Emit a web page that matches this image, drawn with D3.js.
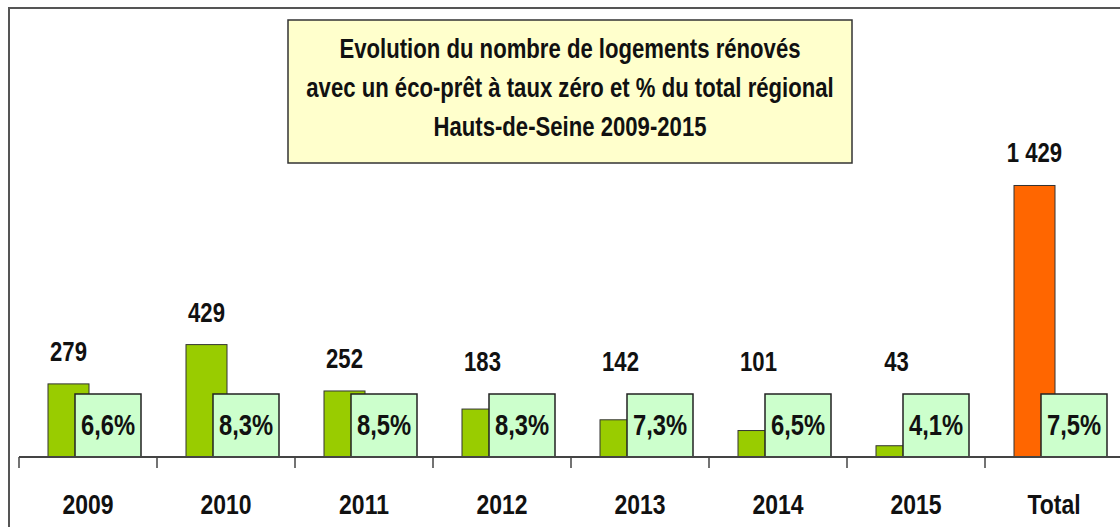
<!DOCTYPE html>
<meta charset="utf-8">
<style>
  body { margin: 0; background: #fff; }
  svg { display: block; }
  text {
    font-family: "Liberation Sans", Arial, sans-serif;
    font-weight: bold;
    fill: #111;
  }
  .frame { fill: none; stroke: #555; stroke-width: 2; }
  .titlebox { fill: #FFFFCC; stroke: #333; stroke-width: 1.5; }
  .bar { stroke: #333; stroke-width: 1; }
  .pctbox { fill: #CCFFCC; stroke: #222; stroke-width: 1.5; }
  .axis { stroke: #444; stroke-width: 2; }
</style>
<svg width="1120" height="527"></svg>
<script src="https://d3js.org/d3.v7.min.js"></script>
<script>

var categories = ["2009", "2010", "2011", "2012", "2013", "2014", "2015", "Total"];
var logements = [279, 429, 252, 183, 142, 101, 43, 1429];
var partRegion = [6.6, 8.3, 8.5, 8.3, 7.3, 6.5, 4.1, 7.5];
var titleLines = [
  "Evolution du nombre de logements rénovés",
  "avec un éco-prêt à taux zéro et % du total régional",
  "Hauts-de-Seine 2009-2015"
];

var svg = d3.select("svg"),
    width = +svg.attr("width"),
    height = +svg.attr("height");

var fr = d3.formatLocale({decimal: ",", thousands: " ", grouping: [3], currency: ["", " €"]});
var fmtNum = fr.format(",d"),
    fmtPct = function(v) { return fr.format(".1f")(v) + "%"; };

// no narrow font installed, so squeeze the text horizontally
var narrow = 0.82;
function place(fx, fy) {
  return function(d, i) { return "translate(" + fx(d, i) + "," + fy(d, i) + ") scale(" + narrow + ",1)"; };
}

var base = 457;
var x = d3.scaleBand()
    .domain(categories)
    .range([19, 19 + categories.length * 138]);
// years on the main axis, the total on a secondary one
var y = d3.scaleLinear().domain([0, 1000]).range([base, base - 262]);
var yTotal = d3.scaleLinear().domain([0, 1500]).range([base, base - 285]);
function yOf(c, v) { return c == "Total" ? yTotal(v) : y(v); }

var data = categories.map(function(c, i) {
  return {cat: c, value: logements[i], pct: partRegion[i]};
});

// outer frame
svg.append("rect").attr("class", "frame")
    .attr("x", 9).attr("y", 8).attr("width", width + 20).attr("height", height + 20);

// title
svg.append("rect").attr("class", "titlebox")
    .attr("x", 288).attr("y", 20).attr("width", 564).attr("height", 143);
svg.selectAll(".title")
    .data(titleLines)
  .enter().append("text")
    .attr("class", "title")
    .attr("transform", place(function() { return 570; }, function(d, i) { return 58 + i * 39; }))
    .attr("text-anchor", "middle")
    .style("font-size", "27px")
    .text(function(d) { return d; });

var bw = 41, boxOff = 56, boxW = 66, boxTop = 394;

var g = svg.append("g");

g.selectAll(".bar")
    .data(data)
  .enter().append("rect")
    .attr("class", "bar")
    .attr("x", function(d) { return x(d.cat) + 29; })
    .attr("y", function(d) { return yOf(d.cat, d.value); })
    .attr("width", bw)
    .attr("height", function(d) { return base - yOf(d.cat, d.value); })
    .attr("fill", function(d) { return d.cat == "Total" ? "#FF6600" : "#99CC00"; });

g.selectAll(".pctbox")
    .data(data)
  .enter().append("rect")
    .attr("class", "pctbox")
    .attr("x", function(d) { return x(d.cat) + boxOff; })
    .attr("y", boxTop)
    .attr("width", boxW)
    .attr("height", base - boxTop);

g.selectAll(".pct")
    .data(data)
  .enter().append("text")
    .attr("transform", place(function(d) { return x(d.cat) + boxOff + boxW / 2; }, function() { return 435; }))
    .attr("text-anchor", "middle")
    .style("font-size", "29px")
    .text(function(d) { return fmtPct(d.pct); });

g.selectAll(".val")
    .data(data)
  .enter().append("text")
    .attr("transform", place(function(d) { return x(d.cat) + 29 + bw / 2; },
                             function(d) { return Math.min(yOf(d.cat, d.value), boxTop) - 23; }))
    .attr("text-anchor", "middle")
    .style("font-size", "27px")
    .text(function(d) { return fmtNum(d.value); });

// category axis
svg.append("line").attr("class", "axis")
    .attr("x1", 19).attr("x2", width).attr("y1", base).attr("y2", base);
svg.selectAll(".tick")
    .data(categories)
  .enter().append("line")
    .attr("class", "axis")
    .style("stroke-width", 1.5)
    .attr("x1", function(d) { return x(d); })
    .attr("x2", function(d) { return x(d); })
    .attr("y1", base).attr("y2", base + 11);
svg.selectAll(".catlabel")
    .data(categories)
  .enter().append("text")
    .attr("transform", place(function(d) { return x(d) + x.bandwidth() / 2; }, function() { return 514; }))
    .attr("text-anchor", "middle")
    .style("font-size", "28px")
    .text(function(d) { return d; });

</script>
